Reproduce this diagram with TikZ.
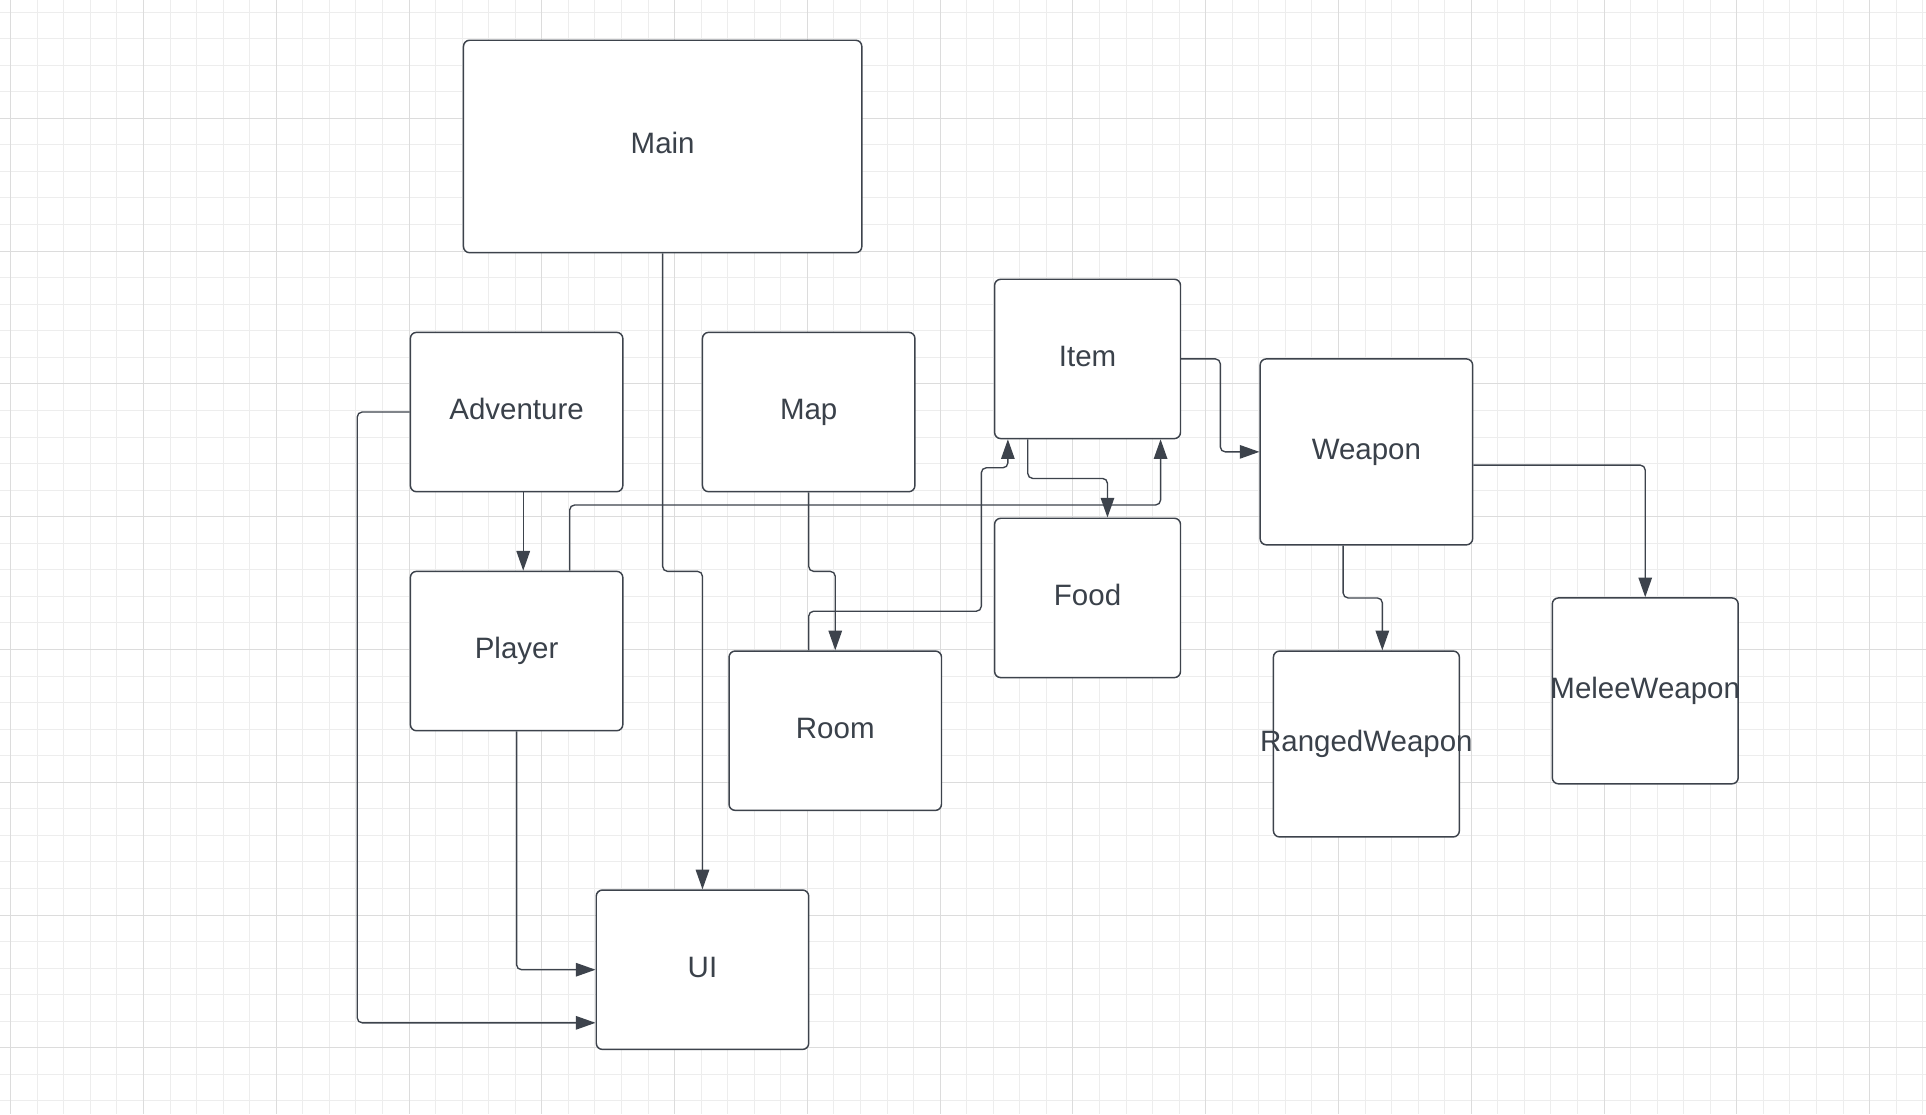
\documentclass[tikz,border=0pt]{standalone}
\usepackage{fontspec}
\setmainfont{Liberation Sans}
\usepackage{xcolor}
\usepackage{tikz}
\usetikzlibrary{calc,arrows.meta}
\definecolor{ink}{HTML}{3A414A}
\definecolor{edge}{HTML}{3D434C}
\definecolor{gridlo}{HTML}{EDEDED}
\definecolor{gridhi}{HTML}{DCDCDC}
\tikzset{
  cls/.style={draw=edge, fill=white, rounded corners=5pt, line width=1.2pt, inner sep=0pt,
    text=ink, font=\fontsize{24}{28}\selectfont, text height=17pt, text depth=5pt},
  dims/.style 2 args={minimum width=#1*21.62pt, minimum height=#2*21.62pt},
  link/.style={draw=edge, line width=1.1pt, rounded corners=4pt, -{Triangle[length=16pt,width=11pt]}},
  gridmin/.style={draw=gridlo, line width=0.8pt},
  gridmaj/.style={draw=gridhi, line width=0.8pt}
}
\newcommand{\wide}[1]{\makebox[0pt]{#1}}

\begin{document}
\begin{tikzpicture}[x=21.62pt, y=-21.62pt]
  \useasboundingbox[fill=white] (-0.4024,-0.4556) rectangle (72.123,41.496);

  % grid
  \foreach \i in {0,...,72} \draw[gridmin] (\i,-0.4556) -- (\i,41.496);
  \foreach \j in {0,...,41} \draw[gridmin] (-0.4024,\j) -- (72.123,\j);
  \foreach \i in {0,5,...,70} \draw[gridmaj] (\i,-0.4556) -- (\i,41.496);
  \foreach \j in {4,9,...,39} \draw[gridmaj] (-0.4024,\j) -- (72.123,\j);

  \begin{scope}[shift={(0.05,0.06)}]
  % classes
  \node[cls, dims={15}{8}] (main) at (24.5,5) {Main};
  \node[cls, dims={8}{6}] (adventure) at (19,15) {Adventure};
  \node[cls, dims={8}{6}] (map) at (30,15) {Map};
  \node[cls, dims={7}{6}] (item) at (40.5,13) {Item};
  \node[cls, dims={8}{7}] (weapon) at (51,16.5) {Weapon};
  \node[cls, dims={8}{6}] (player) at (19,24) {Player};
  \node[cls, dims={7}{6}] (food) at (40.5,22) {Food};
  \node[cls, dims={8}{6}] (room) at (31,27) {Room};
  \node[cls, dims={7}{7}] (ranged) at (51,27.5) {\wide{RangedWeapon}};
  \node[cls, dims={7}{7}] (melee) at (61.5,25.5) {\wide{MeleeWeapon}};
  \node[cls, dims={8}{6}] (ui) at (26,36) {UI};

  % links
  \draw[link] (main.south) -- (24.5,21) -| (ui.north);
  \draw[link] ($(adventure.south)+(0.25,0)$) -- ($(player.north)+(0.25,0)$);
  \draw[link] (adventure.west) -| (13,38) -- ($(ui.west)+(0,2)$);
  \draw[link] (player.south) |- (ui.west);
  \draw[link] ($(player.north)+(2,0)$) |- (43.25,18.5) -- ($(item.south)+(2.75,0)$);
  \draw[link] (map.south) -- (30,21) -| (room.north);
  \draw[link] ($(room.north)+(-1,0)$) |- (36.5,22.5) |- (37.5,17.1) -- ($(item.south)+(-3,0)$);
  \draw[link] ($(item.south)+(-2.25,0)$) |- (41.25,17.5) -- ($(food.north)+(0.75,0)$);
  \draw[link] (item.east) -| (45.5,16.5) -- (weapon.west);
  \draw[link] ($(weapon.south)+(-0.875,0)$) |- (51.6,22) -- ($(ranged.north)+(0.6,0)$);
  \draw[link] ($(weapon.east)+(0,0.5)$) -| (melee.north);
  \end{scope}
\end{tikzpicture}
\end{document}
